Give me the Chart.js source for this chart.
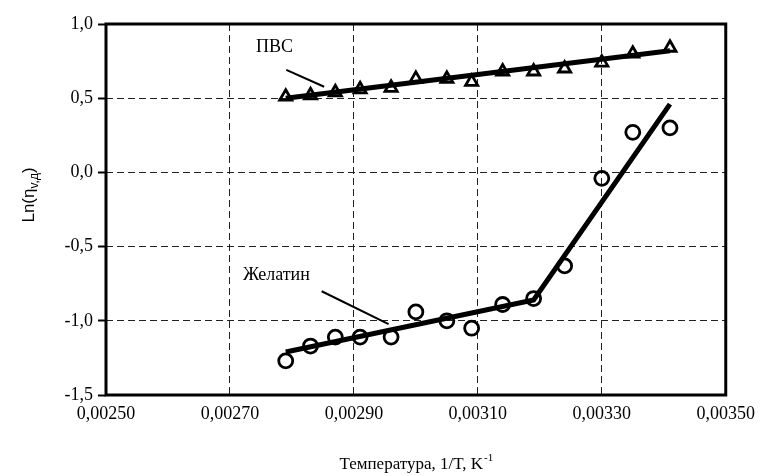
<!DOCTYPE html>
<html>
<head>
<meta charset="utf-8">
<script src="https://cdn.jsdelivr.net/npm/chart.js@4"></script>
<style>
html,body{margin:0;padding:0;background:#fff;}
#wrap{width:763px;height:476px;}
</style>
</head>
<body>
<div id="wrap"><canvas id="c" width="763" height="476"></canvas></div>
<script>
// ---- data ----
const invT = [0.00279, 0.00283, 0.00287, 0.00291, 0.00296, 0.00300, 0.00305, 0.00309, 0.00314, 0.00319, 0.00324, 0.00330, 0.00335, 0.00341];
const pvaY = [0.51, 0.52, 0.54, 0.56, 0.57, 0.63, 0.63, 0.61, 0.68, 0.68, 0.70, 0.74, 0.80, 0.84];
const gelY = [-1.27, -1.17, -1.11, -1.11, -1.11, -0.94, -1.00, -1.05, -0.89, -0.85, -0.63, -0.04, 0.27, 0.30];
const pvaTrendX = [0.00279, 0.00341];
const pvaTrendY = [0.50, 0.82];
const gelTrendX = [0.00279, 0.00319, 0.00341];
const gelTrendY = [-1.21, -0.86, 0.46];
const pvaPointerX = [0.002791, 0.002852];
const pvaPointerY = [0.691, 0.577];
const gelPointerX = [0.002848, 0.002956];
const gelPointerY = [-0.801, -1.023];
const labelTexts = ['ПВС', 'Желатин'];
const labelX = [0.002772, 0.002775];
const labelY = [0.845, -0.690];
const xTickMin = 0.0025, xTickMax = 0.0035, xTickStep = 0.0002;
const yTickMin = -1.5, yTickMax = 1.0, yTickStep = 0.5;
const xTitle = 'Температура, 1/T, K';
const xTitleSup = '-1';
const yTitleMain = 'Ln(η';
const yTitleSub = 'v,д';

const pts = (xs, ys) => xs.map((x, i) => ({x: x, y: ys[i]}));
const FONT = '"Liberation Serif", "DejaVu Serif", serif';
const SANS = '"Liberation Sans", Arial, sans-serif';

const overlay = {
  id: 'overlay',
  afterDraw(chart) {
    const ctx = chart.ctx;
    const a = chart.chartArea;
    const xs = chart.scales.x, ys = chart.scales.y;
    ctx.save();
    // frame
    ctx.strokeStyle = '#000';
    ctx.lineWidth = 3;
    ctx.setLineDash([]);
    ctx.strokeRect(a.left, a.top, a.right - a.left, a.bottom - a.top);
    // annotation labels
    ctx.fillStyle = '#000';
    ctx.font = '18px ' + FONT;
    ctx.textAlign = 'center';
    ctx.textBaseline = 'middle';
    labelTexts.forEach((t, i) => {
      ctx.fillText(t, xs.getPixelForValue(labelX[i]), ys.getPixelForValue(labelY[i]));
    });
    // x title with superscript
    ctx.font = '17px ' + FONT;
    const w1 = ctx.measureText(xTitle).width;
    ctx.font = '11px ' + FONT;
    const w2 = ctx.measureText(xTitleSup).width;
    const cx = (a.left + a.right) / 2;
    const ty = 465;
    let sx = cx - (w1 + w2) / 2;
    ctx.textAlign = 'left';
    ctx.font = '17px ' + FONT;
    ctx.fillText(xTitle, sx, ty);
    ctx.font = '11px ' + FONT;
    ctx.fillText(xTitleSup, sx + w1 + 1, ty - 7);
    // y title rotated with subscript
    ctx.translate(29, 195);
    ctx.rotate(-Math.PI / 2);
    ctx.font = '17px ' + SANS;
    const m1 = ctx.measureText(yTitleMain).width;
    ctx.font = '12px ' + SANS;
    const m2 = ctx.measureText(yTitleSub).width;
    ctx.font = '17px ' + SANS;
    const m3 = ctx.measureText(')').width;
    let px = -(m1 + m2 + m3) / 2;
    ctx.fillText(yTitleMain, px, 0);
    ctx.font = '12px ' + SANS;
    ctx.fillText(yTitleSub, px + m1, 6);
    ctx.font = '17px ' + SANS;
    ctx.fillText(')', px + m1 + m2, 0);
    ctx.restore();
  }
};

new Chart(document.getElementById('c'), {
  type: 'scatter',
  data: {
    datasets: [
      {data: pts(pvaTrendX, pvaTrendY), showLine: true, borderColor: '#000', borderWidth: 5, pointRadius: 0, order: 3},
      {data: pts(gelTrendX, gelTrendY), showLine: true, borderColor: '#000', borderWidth: 5, pointRadius: 0, order: 3},
      {data: pts(pvaPointerX, pvaPointerY), showLine: true, borderColor: '#000', borderWidth: 2, pointRadius: 0, order: 3},
      {data: pts(gelPointerX, gelPointerY), showLine: true, borderColor: '#000', borderWidth: 2, pointRadius: 0, order: 3},
      {data: pts(invT, pvaY), pointStyle: 'triangle', pointRadius: 7, borderColor: '#000', backgroundColor: 'rgba(255,255,255,0)', pointBorderWidth: 2.8, showLine: false, order: 1},
      {data: pts(invT, gelY), pointStyle: 'circle', pointRadius: 7, borderColor: '#000', backgroundColor: 'rgba(255,255,255,0)', pointBorderWidth: 2.8, showLine: false, order: 1}
    ]
  },
  options: {
    responsive: false,
    animation: false,
    layout: {padding: {left: 0, right: 35, top: 24, bottom: 0}},
    plugins: {legend: {display: false}, tooltip: {enabled: false}},
    scales: {
      x: {
        type: 'linear', min: xTickMin, max: xTickMax,
        afterFit(s) { s.height = 81; },
        ticks: {stepSize: xTickStep, color: '#000', padding: 8, font: {family: FONT, size: 18},
          callback: v => v.toFixed(5).replace('.', ',')},
        grid: {color: '#222', lineWidth: 1, borderDash: [7, 4], tickLength: 0, tickBorderDash: []},
        border: {display: false, dash: [7, 4]}
      },
      y: {
        type: 'linear', min: yTickMin, max: yTickMax,
        afterFit(s) { s.width = 106; },
        ticks: {stepSize: yTickStep, color: '#000', padding: 5, font: {family: FONT, size: 18},
          callback: v => v.toFixed(1).replace('.', ',')},
        grid: {color: '#222', lineWidth: 1, borderDash: [7, 4], tickLength: 8, tickColor: '#000', tickWidth: 2, tickBorderDash: []},
        border: {display: false, dash: [7, 4]}
      }
    }
  },
  plugins: [overlay]
});
</script>
</body>
</html>
